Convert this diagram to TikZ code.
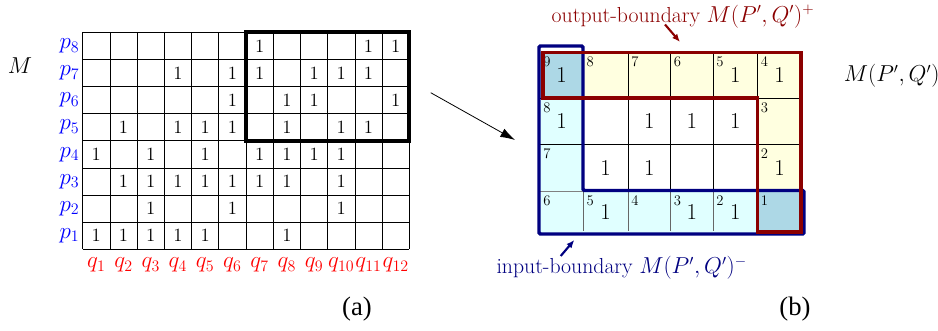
\documentclass[tikz,border=0pt]{standalone}
\usepackage{fontspec}
\newfontfamily\timesfont{Liberation Serif}
\usetikzlibrary{arrows.meta}
\definecolor{pblue}{RGB}{0,0,255}
\definecolor{qred}{RGB}{255,0,0}
\definecolor{dred}{RGB}{139,0,0}
\definecolor{navyc}{RGB}{0,0,128}
\definecolor{lyellow}{RGB}{255,255,224}
\definecolor{lcyan}{RGB}{224,255,255}
\definecolor{lblue}{RGB}{173,216,230}
\begin{document}
\begin{tikzpicture}[x=0.75pt,y=-0.75pt,
  gridline/.style={line width=0.6pt, black},
  lone/.style={font=\fontsize{14}{16}\selectfont, inner sep=0pt},
  plab/.style={text=pblue, font=\fontsize{17}{20}\selectfont, anchor=east, inner sep=1pt},
  qlab/.style={text=qred, font=\fontsize{17}{20}\selectfont, inner sep=0pt},
  rone/.style={font=\fontsize{17}{20}\selectfont, inner sep=0pt},
  rnum/.style={font=\fontsize{11}{13}\selectfont, anchor=north west, inner sep=0pt},
  biglab/.style={font=\fontsize{16.3}{19}\selectfont, inner sep=0pt},
  caplab/.style={font=\timesfont\fontsize{20}{24}\selectfont, inner sep=0pt},
  thickbox/.style={line width=3pt, black},
  outpath/.style={dred, line width=2.3pt},
  inpath/.style={navyc, line width=2.6pt, rounded corners=1pt}
]
\useasboundingbox (0,0) rectangle (938,331);
% ---------- left matrix ----------
\def\LX{82.7}\def\LY{32.3}\def\LW{27.22}\def\LH{27.13}
\foreach \i in {0,...,12}{
  \draw[gridline] ({\LX+\i*\LW},\LY) -- ({\LX+\i*\LW},{\LY+8*\LH});
}
\foreach \j in {0,...,8}{
  \draw[gridline] (\LX,{\LY+\j*\LH}) -- ({\LX+12*\LW},{\LY+\j*\LH});
}
\foreach \r/\cols in {8/{7,11,12},7/{4,6,7,9,10,11},6/{6,8,9,12},5/{2,4,5,6,8,10,11},4/{1,3,5,7,8,9,10},3/{2,3,4,5,6,7,8,10},2/{3,6,10},1/{1,2,3,4,5,8}}{
  \foreach \c in \cols{
    \node[lone] (L\r-\c) at ({\LX+(\c-0.5)*\LW},{\LY+(8.5-\r)*\LH}) {1};
  }
}
\foreach \r in {1,...,8}{
  \node[plab] (p\r) at (81,{\LY+(8.5-\r)*\LH}) {$p_{\r}$};
}
\foreach \c in {1,...,12}{
  \node[qlab] (q\c) at ({\LX+(\c-0.5)*\LW},265) {$q_{\c}$};
}
\node[font=\fontsize{16}{19}\selectfont] (Mlab) at (20,66) {$M$};
\node[thickbox, draw, minimum width=163.3*0.75pt, minimum height=108.5*0.75pt, inner sep=0pt] (sub) at (327.5,86.5) {};
% ---------- arrow ----------
\coordinate (arrS) at (430.7,92.7);
\coordinate (arrE) at (515,140);
\draw[line width=0.6pt, -{Latex[length=11pt,width=7pt]}] (arrS) -- (arrE);
% ---------- right matrix ----------
\fill[lyellow] (583.3,51.7) rectangle (801.7,98);
\fill[lyellow] (757.5,98) rectangle (801.7,191);
\fill[lcyan] (540,98) rectangle (583.3,233.5);
\fill[lcyan] (583.3,191) rectangle (757.5,233.5);
\fill[lblue] (540,51.7) rectangle (583.3,98);
\fill[lblue] (757.5,191) rectangle (801.7,233.5);
\foreach \y in {98,144.3}{
  \draw[gridline] (540,\y) -- (801.7,\y);
}
\draw[gridline, gray] (540,191) -- (801.7,191);
\foreach \x in {583.3,628,670.7,713,757.5}{
  \draw[gridline] (\x,51.7) -- (\x,191);
  \draw[gridline, gray!80!black] (\x,191) -- (\x,231);
}
\foreach \x/\y [count=\k] in {561.65/74.85,735.25/74.85,779.6/74.85,
  561.65/121.15,649.35/121.15,691.85/121.15,735.25/121.15,
  605.65/167.65,649.35/167.65,779.6/167.65,
  605.65/212.25,691.85/212.25,735.25/212.25}{
  \node[rone] (R\k) at (\x,\y) {1};
}
\foreach \x/\y/\n [count=\k] in {543/56.2/9,586.3/56.2/8,631/56.2/7,673.7/56.2/6,716/56.2/5,760.5/56.2/4,
  760.5/102.5/3,760.5/148.8/2,760.5/195.5/1,
  543/102.5/8,543/148.8/7,543/195.5/6,
  586.3/195.5/5,631/195.5/4,673.7/195.5/3,716/195.5/2}{
  \node[rnum] (N\k) at (\x,\y) {\n};
}
% boundaries
\draw[inpath] (539,46) -- (539,234) -- (804,234) -- (804,190.5) -- (583,190.5) -- (583,46) -- cycle;
\draw[outpath] (543,52.5) -- (801,52.5) -- (801,232) -- (757.5,232) -- (757.5,98) -- (543,98) -- cycle;
% labels
\node[biglab] (MPQ) at (891.7,76) {$M(P',Q')$};
\node[biglab, text=dred] (outl) at (683,16.5) {output-boundary $M(P',Q')^+$};
\node[biglab, text=navyc] (inl) at (621.7,268) {input-boundary $M(P',Q')^-$};
\coordinate (ra1) at (665,24.5);
\coordinate (ra2) at (680,42);
\draw[dred, line width=1.6pt, -{Latex[length=6pt,width=5pt]}] (ra1) -- (ra2);
\coordinate (ba1) at (560.7,256);
\coordinate (ba2) at (574.3,240);
\draw[navyc, line width=1.6pt, -{Latex[length=6pt,width=5pt]}] (ba1) -- (ba2);
% captions
\node[caplab] (capa) at (357,309) {(a)};
\node[caplab] (capb) at (795,309) {(b)};
\end{tikzpicture}
\end{document}
